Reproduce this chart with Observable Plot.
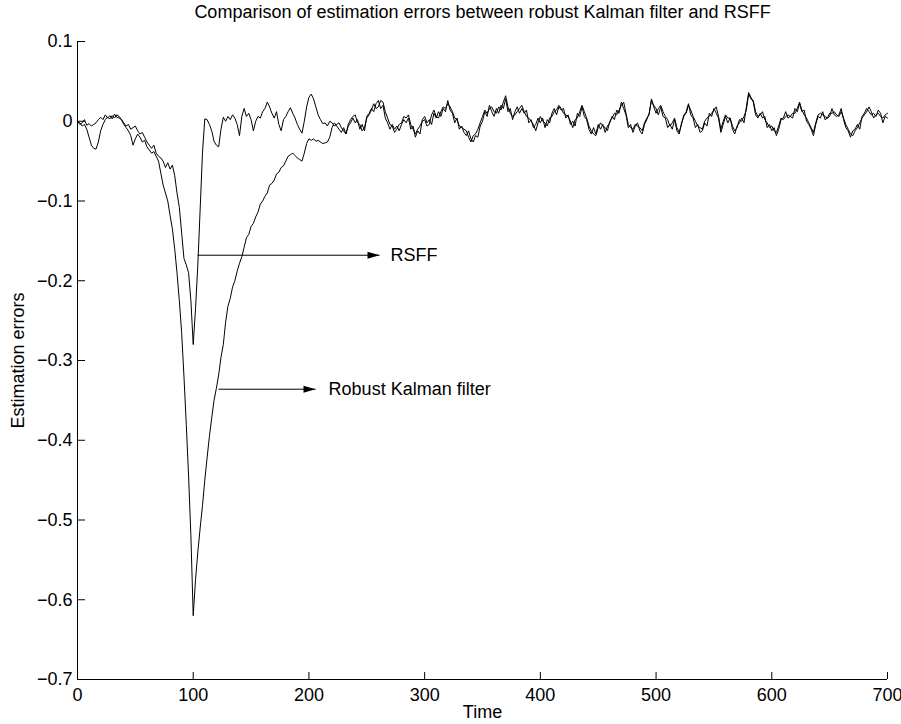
<!DOCTYPE html>
<html><head><meta charset="utf-8">
<script src="https://cdn.jsdelivr.net/npm/d3@7"></script>
<script src="https://cdn.jsdelivr.net/npm/@observablehq/plot@0.6"></script>
<style>html,body{margin:0;padding:0;background:#fff;} #chart{width:901px;height:724px;}</style>
</head><body><div id="chart"></div>
<script>
const titleText = "Comparison of estimation errors between robust Kalman filter and RSFF";
const xLabel = "Time";
const yLabel = "Estimation errors";

// samples every 2 time units, starting at time 0 (one row = 20 time units)
const timeStart = 0, timeStep = 2;

const kalman = [
  0,-0.002,-0.006,-0.004,-0.01,-0.02,-0.03,-0.034,-0.035,-0.026,
  -0.012,-0.004,0.002,0.005,0.003,0.007,0.004,0.008,0.006,0.002,
  -0.004,-0.008,-0.012,-0.018,-0.03,-0.022,-0.016,-0.02,-0.026,-0.024,
  -0.032,-0.036,-0.04,-0.038,-0.044,-0.05,-0.065,-0.08,-0.09,-0.1,
  -0.118,-0.135,-0.16,-0.19,-0.225,-0.265,-0.32,-0.38,-0.445,-0.52,
  -0.62,-0.575,-0.54,-0.51,-0.482,-0.45,-0.422,-0.395,-0.372,-0.35,
  -0.335,-0.318,-0.296,-0.28,-0.252,-0.232,-0.222,-0.208,-0.2,-0.188,
  -0.178,-0.17,-0.158,-0.146,-0.142,-0.132,-0.128,-0.12,-0.114,-0.104,
  -0.1,-0.094,-0.09,-0.08,-0.078,-0.074,-0.066,-0.064,-0.058,-0.056,
  -0.05,-0.044,-0.042,-0.04,-0.043,-0.046,-0.048,-0.05,-0.04,-0.028,
  -0.022,-0.024,-0.022,-0.025,-0.024,-0.026,-0.028,-0.027,-0.026,-0.02,
  -0.008,-0.002,-0.006,-0.01,-0.014,-0.008,-0.016,-0.006,-0.002,0.004,
  -0.002,0.002,-0.01,-0.004,-0.012,0.006,0.01,0.016,0.012,0.022,
  0.026,0.016,0.02,0.004,-0.002,-0.01,-0.004,-0.01,-0.006,-0.012,
  -0.004,0.002,-0.002,0.004,-0.01,-0.006,-0.02,-0.012,-0.016,0.002,
  0.006,-0.002,0.002,-0.004,0.01,0.004,0.012,0.006,0.016,0.012,
  0.026,0.014,0.01,-0.002,0.004,-0.01,-0.006,-0.014,-0.018,-0.012,
  -0.022,-0.026,-0.018,-0.02,-0.006,0.0,0.012,0.006,0.02,0.012,
  0.006,0.016,0.01,0.02,0.016,0.028,0.012,0.016,0.002,0.012,
  0.018,0.01,0.016,0.01,0.014,-0.002,0.002,-0.008,-0.004,0.004,
  -0.002,0.004,-0.008,0.002,-0.002,0.01,0.016,0.008,0.018,0.014,
  0.016,0.004,0.008,-0.004,0.0,-0.006,0.01,0.006,0.018,0.006,
  0.002,-0.01,-0.016,-0.008,-0.016,-0.004,-0.01,-0.004,-0.014,-0.006,
  -0.002,0.006,0.002,0.014,0.01,0.024,0.016,0.008,-0.008,-0.004,
  -0.014,-0.006,-0.002,-0.012,-0.016,-0.004,0.002,0.01,0.026,0.02,
  0.016,0.008,0.018,0.006,0.004,-0.008,-0.004,-0.01,0.002,-0.012,
  -0.016,-0.002,0.006,0.012,0.022,0.008,0.004,-0.008,-0.004,-0.014,
  -0.012,-0.002,-0.006,0.01,0.006,0.016,0.01,0.004,-0.014,-0.004,
  0.006,-0.002,0.004,-0.01,-0.016,-0.006,-0.002,0.004,-0.002,0.018,
  0.036,0.03,0.024,0.008,0.004,0.01,0.004,0.006,-0.008,-0.004,
  -0.012,-0.008,-0.018,-0.01,0.002,0.004,0.012,0.004,0.006,0.004,
  0.016,0.012,0.022,0.012,0.014,0.0,-0.004,-0.01,-0.018,-0.004,
  0.006,0.004,0.012,0.002,0.004,0.006,0.016,0.008,0.006,0.008,
  0.016,0.002,-0.008,-0.012,-0.02,-0.012,-0.01,-0.004,-0.01,0.006,
  0.01,0.016,0.012,0.008,0.01,0.006,0.014,0.01,-0.002,0.006,
  0.004
];

const rsff = [
  0,-0.004,-0.002,0.002,-0.005,-0.003,-0.006,-0.004,-0.002,0.002,
  0.005,0.002,0.008,0.004,0.007,0.003,0.009,0.005,0.004,0.002,
  -0.002,-0.006,-0.004,-0.01,-0.008,-0.006,-0.012,-0.016,-0.014,-0.02,
  -0.026,-0.03,-0.034,-0.03,-0.04,-0.044,-0.046,-0.05,-0.058,-0.052,
  -0.06,-0.055,-0.068,-0.09,-0.108,-0.14,-0.172,-0.18,-0.19,-0.225,
  -0.28,-0.235,-0.18,-0.11,-0.04,0.003,0.002,-0.004,-0.012,-0.025,
  -0.03,-0.032,-0.01,0.005,0.0,0.006,0.002,0.008,0.004,-0.004,
  -0.018,0.006,0.016,0.006,0.01,0.002,-0.012,0.0,0.006,0.004,
  0.012,0.016,0.024,0.018,0.01,0.004,0.012,-0.004,-0.012,0.002,
  0.006,0.012,0.017,0.01,0.004,-0.004,-0.01,-0.015,0.0,0.018,
  0.03,0.034,0.028,0.018,0.008,0.002,-0.003,-0.002,-0.006,0.0,
  -0.002,-0.006,-0.004,-0.002,-0.008,-0.012,-0.016,-0.004,0.002,0.006,
  0.008,-0.002,-0.004,-0.012,-0.008,0.004,0.008,0.014,0.022,0.016,
  0.018,0.026,0.024,0.012,0.004,-0.004,-0.006,-0.014,-0.01,-0.004,
  -0.002,0.006,0.004,0.008,-0.004,-0.01,-0.016,-0.01,-0.006,0.0,
  0.002,-0.006,-0.004,0.008,0.014,0.006,0.004,0.012,0.018,0.016,
  0.022,0.018,0.012,0.004,0.002,-0.006,-0.008,-0.01,-0.012,-0.02,
  -0.026,-0.018,-0.016,-0.01,-0.002,0.006,0.014,0.01,0.016,0.018,
  0.012,0.01,0.018,0.014,0.024,0.032,0.018,0.01,0.006,0.008,
  0.012,0.016,0.02,0.012,0.006,0.004,0.0,-0.004,-0.012,-0.002,
  0.006,0.0,-0.002,-0.006,0.004,0.006,0.012,0.014,0.02,0.016,
  0.01,0.008,0.006,0.0,-0.008,0.002,0.004,0.012,0.02,0.012,
  0.004,-0.006,-0.012,-0.016,-0.018,-0.008,-0.002,-0.006,-0.008,-0.012,
  0.0,0.004,0.01,0.008,0.014,0.02,0.024,0.01,-0.004,-0.008,
  -0.01,-0.004,-0.006,-0.008,-0.012,-0.002,0.004,0.008,0.028,0.018,
  0.01,0.016,0.02,0.012,0.006,0.002,-0.006,-0.002,0.004,-0.008,
  -0.014,-0.004,0.008,0.01,0.02,0.014,0.006,0.0,-0.006,-0.008,
  -0.01,0.0,0.004,0.006,0.01,0.014,0.018,0.006,-0.01,0.0,
  0.008,0.004,0.004,-0.006,-0.012,-0.008,0.002,0.0,0.006,0.014,
  0.034,0.028,0.026,0.012,0.006,0.008,0.012,0.002,-0.002,-0.008,
  -0.006,-0.012,-0.014,-0.006,0.004,0.002,0.006,0.008,0.006,0.01,
  0.01,0.016,0.024,0.014,0.008,0.004,-0.002,-0.008,-0.014,-0.002,
  0.008,0.01,0.008,0.006,0.004,0.01,0.01,0.012,0.008,0.006,
  0.012,0.004,-0.004,-0.01,-0.016,-0.018,-0.012,-0.008,-0.002,0.004,
  0.008,0.012,0.018,0.012,0.004,0.008,0.01,0.006,0.004,0.008,
  0.01
];

const xTicks = [0,100,200,300,400,500,600,700];
const yTicks = [0.1,0,-0.1,-0.2,-0.3,-0.4,-0.5,-0.6,-0.7];

// annotations (data coordinates)
const annLabels = ["RSFF","Robust Kalman filter"];
const annFrom   = [103.7, 121.9];
const annTo     = [261, 205.7];
const annY      = [-0.168, -0.336];
const annTextX  = [270.5, 217];

if (kalman.length !== rsff.length) {
  throw new Error(`length mismatch kalman=${kalman.length} rsff=${rsff.length}`);
}

const W = 901, H = 724, mL = 77, mR = 14, mT = 41, mB = 45;
const plotW = W - mL - mR, plotH = H - mT - mB;
const rows = kalman.map((k, i) => ({t: timeStart + i * timeStep, kalman: k, rsff: rsff[i]}));
const annot = annLabels.map((label, i) => ({label, from: annFrom[i], to: annTo[i], y: annY[i], tx: annTextX[i]}));
const fmtY = d => d === 0 ? "0" : d3.format(".1f")(d).replace("-", "\u2212");

const chart = Plot.plot({
  width: W, height: H,
  marginLeft: mL, marginRight: mR, marginTop: mT, marginBottom: mB,
  style: {fontFamily: "'Liberation Sans', Arial, Helvetica, sans-serif", fontSize: "18px", background: "#fff", color: "#000", overflow: "visible"},
  x: {domain: [0, 700]},
  y: {domain: [-0.7, 0.1]},
  marks: [
    Plot.axisX(xTicks, {tickSize: 0, tickPadding: 9, fontSize: 18, label: null, tickFormat: d3.format("d")}),
    Plot.axisY(yTicks, {tickSize: 0, tickPadding: 5, fontSize: 18, label: null, tickFormat: fmtY}),
    Plot.tickX(xTicks, {x: d => d, insetTop: plotH - 7, stroke: "#000"}),
    Plot.tickY(yTicks, {y: d => d, insetRight: plotW - 8, stroke: "#000"}),
    Plot.ruleX([0], {stroke: "#000"}),
    Plot.ruleY([-0.7], {stroke: "#000"}),
    Plot.line(rows, {x: "t", y: "kalman", stroke: "#000", strokeWidth: 1}),
    Plot.line(rows, {x: "t", y: "rsff", stroke: "#000", strokeWidth: 1}),
    Plot.link(annot, {x1: "from", x2: "to", y1: "y", y2: "y", stroke: "#000", strokeWidth: 1}),
    Plot.vector(annot, {x: "to", y: "y", rotate: 90, length: 12, r: 3.5, shape: "spike", anchor: "end", fill: "#000", stroke: "none"}),
    Plot.text(annot, {x: "tx", y: "y", text: "label", textAnchor: "start", fontSize: 18, fill: "#000"}),
    Plot.text([titleText], {frameAnchor: "top", lineAnchor: "middle", textAnchor: "middle", dy: -29, fontSize: 18, fill: "#000"}),
    Plot.text([xLabel], {frameAnchor: "bottom", lineAnchor: "middle", textAnchor: "middle", dy: 33, fontSize: 18, fill: "#000"}),
    Plot.text([yLabel], {frameAnchor: "left", lineAnchor: "middle", textAnchor: "middle", dx: -59, rotate: -90, fontSize: 18, fill: "#000"})
  ]
});
document.getElementById("chart").appendChild(chart);
</script>
</body></html>
